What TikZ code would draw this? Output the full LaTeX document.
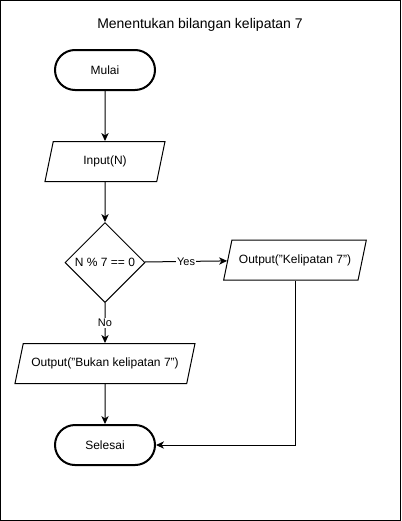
\documentclass[tikz,border=0pt]{standalone}
\usepackage{fontspec}
\setmainfont{Liberation Sans}
\usetikzlibrary{arrows.meta,positioning,shapes.geometric}
\tikzset{
  terminal/.style={
    draw=black,
    line width=1.5pt,
    rounded corners=15pt,
    align=center,
    minimum width=75pt,
    minimum height=30pt,
    inner sep=2pt,
    font=\fontsize{9}{11}\selectfont
  },
  iobox/.style={
    draw=black,
    line width=0.75pt,
    trapezium,
    trapezium left angle=63.43,
    trapezium right angle=116.57,
    trapezium stretches body,
    align=center,
    minimum height=30pt,
    inner xsep=-5pt,
    inner ysep=2pt,
    font=\fontsize{9}{11}\selectfont
  },
  decision/.style={
    draw=black,
    line width=0.75pt,
    diamond,
    aspect=1,
    minimum width=60pt,
    minimum height=60pt,
    inner sep=0pt,
    font=\fontsize{9}{11}\selectfont
  },
  flowarrow/.style={
    -{Stealth[length=6pt,width=5.5pt,inset=1.8pt]},
    line width=0.75pt
  },
  branchlabel/.style={
    fill=white,
    inner sep=1pt,
    font=\fontsize{8.25}{10}\selectfont
  }
}

\begin{document}
\begin{tikzpicture}[x=0.75pt,y=-0.75pt]
  \useasboundingbox (0,0) rectangle (401,521);
  \draw[line width=0.75pt] (0.5,0.5) rectangle (400.5,520.5);
  \node[font=\fontsize{10.5}{12}\selectfont] (judul) at (200,25) {Menentukan bilangan kelipatan 7};
  \node[terminal] (mulai) at (105,70) {Mulai};
  \node[iobox, minimum width=90pt, below=37.5pt of mulai] (input) {Input(N)};
  \node[decision, below=30pt of input] (cek) {N \% 7 == 0};
  \node[iobox, minimum width=107pt] (benar) at (295,260) {Output("Kelipatan 7")};
  \node[iobox, minimum width=135pt, below=30pt of cek] (salah) {Output("Bukan kelipatan 7")};
  \node[terminal, below=30pt of salah] (selesai) {Selesai};
  \draw[flowarrow] (mulai) -- (input);
  \draw[flowarrow] (input) -- (cek);
  \draw[flowarrow] (cek) -- node[branchlabel]{Yes} (benar);
  \draw[flowarrow] (cek) -- node[branchlabel]{No} (salah);
  \draw[flowarrow] (salah) -- (selesai);
  \draw[flowarrow] (benar.south) |- (selesai.east);
\end{tikzpicture}
\end{document}
